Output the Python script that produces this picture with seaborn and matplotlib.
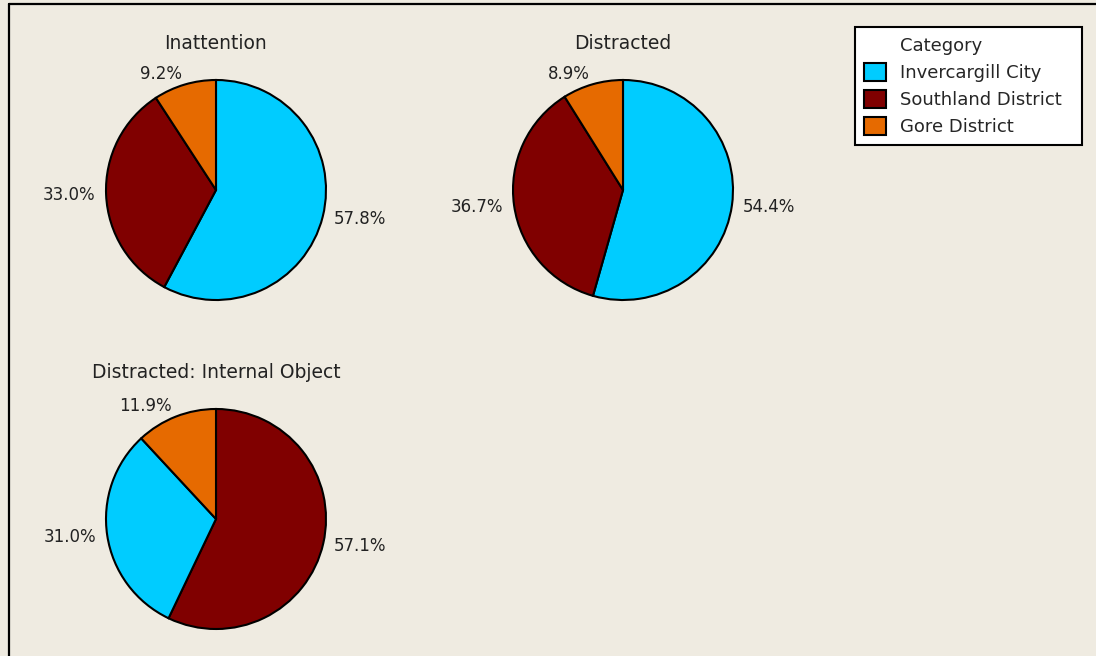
import matplotlib
matplotlib.use("Agg")
import matplotlib.pyplot as plt
from matplotlib.patches import Patch
from matplotlib.lines import Line2D
import seaborn as sns

# data
categories = ["Invercargill City", "Southland District", "Gore District"]
titles = ["Inattention", "Distracted", "Distracted: Internal Object"]
inattention = [57.8, 33.0, 9.2]
distracted = [54.4, 36.7, 8.9]
internal_object = [31.0, 57.1, 11.9]

bg = "#EFEBE1"
palette = sns.color_palette(["#00CCFF", "#800000", "#E66A00"])
colors = dict(zip(categories, palette))

sns.set_style("white", {"axes.facecolor": bg, "figure.facecolor": bg})
plt.rcParams["font.family"] = ["DejaVu Sans"]

W, H = 1096, 656
fig = plt.figure(figsize=(W / 100, H / 100), dpi=100)
fig.patch.set_facecolor(bg)

# pie centres and radius in pixels (from top-left)
centres = [(216, 190), (623, 190), (216, 519)]
radius = 110


def draw_pie(ax, values, title):
    # Minitab-style: slices sorted largest first, clockwise from 12 o'clock
    order = sorted(range(len(values)), key=lambda i: -values[i])
    vals = [values[i] for i in order]
    cols = [colors[categories[i]] for i in order]
    labels = [f"{v:.1f}%" for v in vals]
    ax.pie(vals, colors=cols, labels=labels, startangle=90,
           counterclock=False, labeldistance=1.1,
           wedgeprops=dict(edgecolor="black", linewidth=1.5),
           textprops=dict(fontsize=12, color="#222222"))
    ax.set_xlim(-1, 1)
    ax.set_ylim(-1, 1)
    ax.set_aspect("equal")
    ax.axis("off")
    ax.text(0, 1.33, title, ha="center", va="center", fontsize=13.5,
            color="#222222")


for (cx, cy), vals, title in zip(centres, [inattention, distracted, internal_object], titles):
    ax = fig.add_axes([(cx - radius) / W, 1 - (cy + radius) / H,
                       2 * radius / W, 2 * radius / H])
    draw_pie(ax, vals, title)

# outer frame (only top and left edges fall inside the image)
fig.add_artist(Line2D([8.5 / W, 1.0], [1 - 3.5 / H, 1 - 3.5 / H],
                      transform=fig.transFigure, color="black", linewidth=1.6))
fig.add_artist(Line2D([8.5 / W, 8.5 / W], [0, 1 - 3.5 / H],
                      transform=fig.transFigure, color="black", linewidth=1.6))

# legend: "Category" heading sits in line with the labels
handles = [Patch(facecolor="none", edgecolor="none", label="Category")]
handles += [Patch(facecolor=colors[c], edgecolor="black", linewidth=1.5, label=c)
            for c in categories]
leg = fig.legend(handles=handles, loc="upper left",
                 bbox_to_anchor=(855 / W, 1 - 147 / H, 227 / W, 120 / H),
                 mode="expand", borderaxespad=0,
                 fontsize=13, frameon=True, fancybox=False,
                 framealpha=1, edgecolor="black", facecolor="white",
                 handlelength=1.2, handleheight=1.2, handletextpad=0.8,
                 labelspacing=0.42, borderpad=0.5)
leg.get_frame().set_linewidth(1.5)

fig.savefig("out.png", dpi=100, facecolor=bg)
